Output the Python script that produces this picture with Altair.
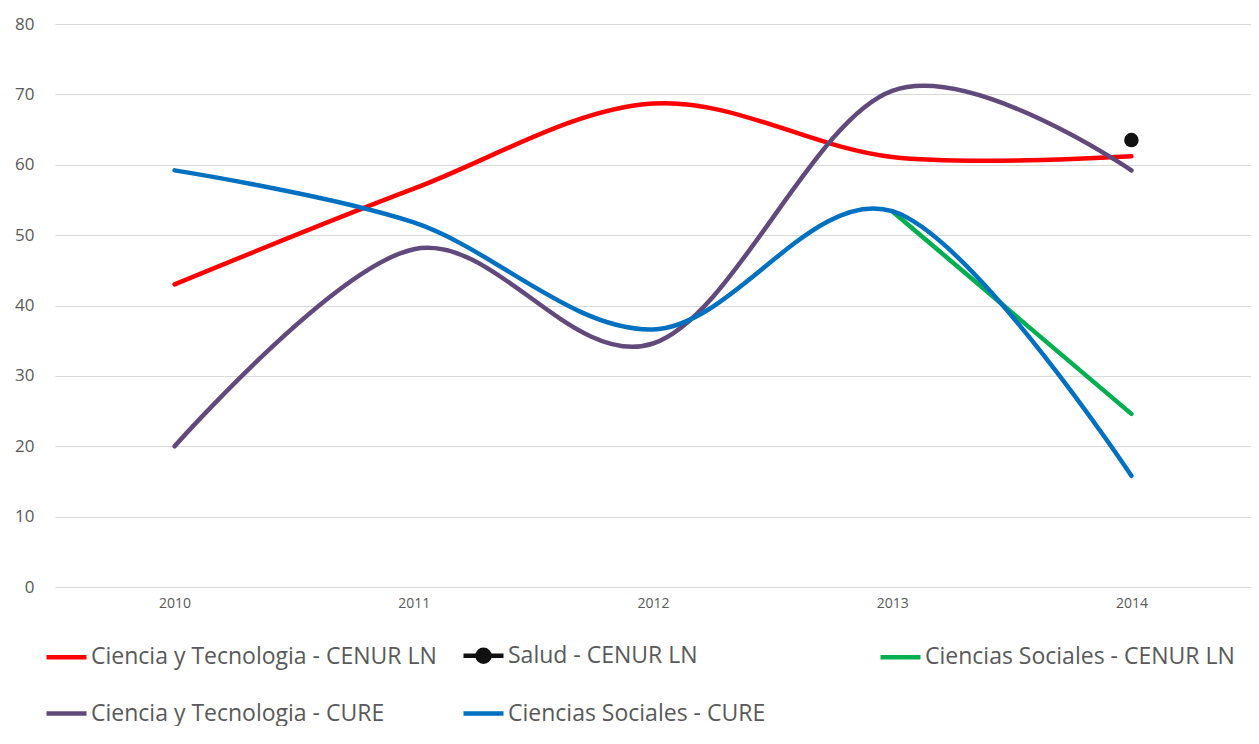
import altair as alt
import pandas as pd

years = ["2010", "2011", "2012", "2013", "2014"]
series_names = [
    "Ciencia y Tecnologia - CENUR LN",
    "Salud - CENUR LN",
    "Ciencias Sociales - CENUR LN",
    "Ciencia y Tecnologia - CURE",
    "Ciencias Sociales - CURE",
]
cyt_cenur = [43.0, 56.6, 68.7, 61.1, 61.2]
salud_cenur = [None, None, None, None, 63.5]
cs_cenur = [None, None, None, 53.4, 24.6]
cyt_cure = [20.0, 48.0, 34.6, 70.5, 59.2]
cs_cure = [59.2, 51.8, 36.6, 53.4, 15.8]
colors = ["#FF0000", "#111111", "#00B050", "#604A7B", "#0070C0"]

rows = []
for name, vals in zip(series_names, [cyt_cenur, salud_cenur, cs_cenur, cyt_cure, cs_cure]):
    for y, v in zip(years, vals):
        if v is not None:
            rows.append({"year": y, "value": v, "series": name})
df = pd.DataFrame(rows)

FONT = "Open Sans"
TXT = "#595959"

# line with a solid dot (concentric circles so the stroke fills the disc)
salud_shape = ("M-1,0H1"
               "M-0.3,0A0.3,0.3,0,1,1,0.3,0A0.3,0.3,0,1,1,-0.3,0"
               "M-0.18,0A0.18,0.18,0,1,1,0.18,0A0.18,0.18,0,1,1,-0.18,0"
               "M-0.06,0A0.06,0.06,0,1,1,0.06,0A0.06,0.06,0,1,1,-0.06,0")

x_enc = alt.X("year:N", sort=years,
              scale=alt.Scale(type="point", padding=0.5),
              axis=alt.Axis(title=None, domain=False, ticks=False, labelAngle=0,
                            labelFontSize=14, labelColor=TXT, labelFont=FONT,
                            labelPadding=9, grid=False))
y_enc = alt.Y("value:Q", scale=alt.Scale(domain=[0, 80], nice=False),
              axis=alt.Axis(title=None, values=[0, 10, 20, 30, 40, 50, 60, 70, 80],
                            domain=False, ticks=False, labelFontSize=17,
                            labelColor=TXT, labelFont=FONT, labelPadding=21,
                            gridColor="#D9D9D9", gridWidth=1,
                            minExtent=47, maxExtent=47))

lines = alt.Chart(df).mark_line(
    interpolate="cardinal", strokeWidth=4.5, strokeCap="round", strokeJoin="round"
).encode(
    x=x_enc,
    y=y_enc,
    color=alt.Color(
        "series:N",
        sort=series_names,
        scale=alt.Scale(domain=series_names, range=colors),
        legend=alt.Legend(
            title=None, orient="none", legendX=-11, legendY=609,
            direction="horizontal", columns=3, gridAlign="all",
            columnPadding=17, rowPadding=20,
            symbolType=alt.ExprRef("datum.value === 'Salud - CENUR LN' ? '" + salud_shape + "' : 'stroke'"),
            symbolSize=1600, symbolStrokeWidth=4.5,
            labelFontSize=23, labelFont=FONT, labelColor=TXT, labelOffset=2,
            labelLimit=500,
        ),
    ),
)

salud_df = df[df["series"] == "Salud - CENUR LN"]
points = alt.Chart(salud_df).mark_point(filled=True, size=210, opacity=1).encode(
    x=alt.X("year:N", sort=years), y=alt.Y("value:Q"), color=alt.value("#111111")
)

chart = alt.layer(lines, points).properties(
    width=1196, height=563,
    padding={"top": 7, "left": 0, "right": 0, "bottom": 0},
).configure_view(stroke=None)

chart.save("out.html", embed_options={"renderer": "svg", "actions": False})
